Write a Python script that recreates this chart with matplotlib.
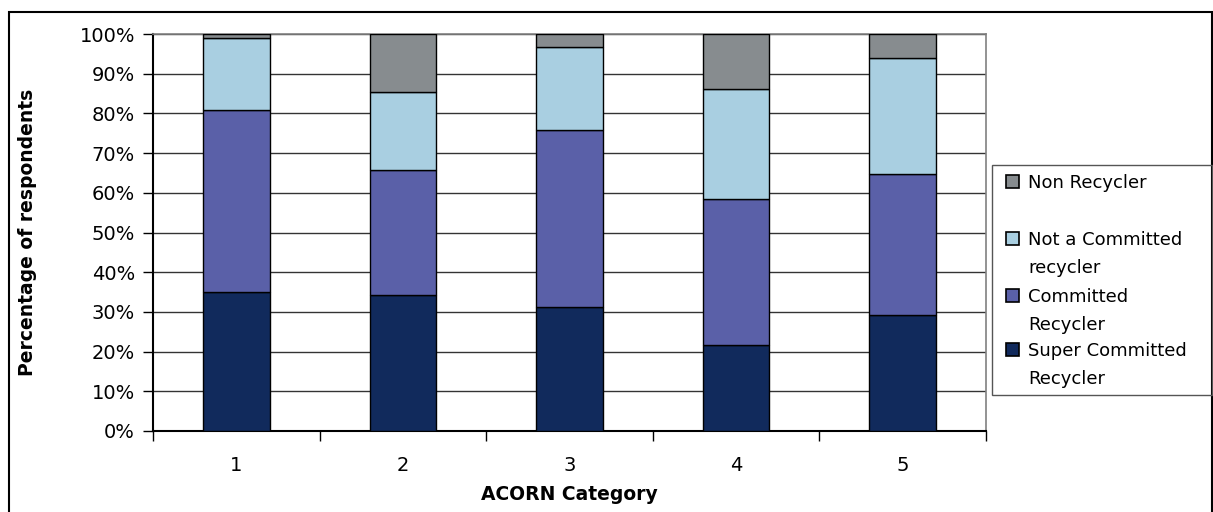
import matplotlib
matplotlib.use("Agg")
import matplotlib.pyplot as plt
from matplotlib.patches import Rectangle
import numpy as np

plt.rcParams['font.family'] = ['DejaVu Sans']

categories = ['1', '2', '3', '4', '5']
super_committed = [35.1, 34.3, 31.3, 21.7, 29.1]
committed = [45.8, 31.4, 44.6, 36.7, 35.7]
not_committed = [18.0, 19.8, 20.8, 27.7, 29.2]
non_recycler = [1.1, 14.5, 3.3, 13.9, 6.0]

series_labels = [['Non Recycler'],
                 ['Not a Committed', 'recycler'],
                 ['Committed', 'Recycler'],
                 ['Super Committed', 'Recycler']]
colors = ['#878c8f', '#a9cfe1', '#5a60a8', '#112a5c']

W, H = 1213, 512
fig = plt.figure(figsize=(W / 100, H / 100), dpi=100)
ax = fig.add_axes([153 / W, 1 - 431 / H, (986 - 153) / W, (431 - 34) / H])


def fx(px):
    return px / W


def fy(py):
    return 1 - py / H


x = np.arange(len(categories))
bottom = np.zeros(len(categories))
stack = [super_committed, committed, not_committed, non_recycler]
stack_colors = colors[::-1]
for vals, c in zip(stack, stack_colors):
    ax.bar(x, vals, width=0.4, bottom=bottom, color=c, edgecolor='black',
           linewidth=1.0, zorder=3)
    bottom += np.array(vals)

ax.set_xlim(-0.5, len(categories) - 0.5)
ax.set_ylim(0, 100)
ax.set_yticks(np.arange(0, 101, 10))
ax.set_yticklabels([f'{v}%' for v in range(0, 101, 10)], fontsize=14)
ax.set_xticks(x)
ax.set_xticklabels(categories, fontsize=14)
ax.set_xticks(np.arange(len(categories) + 1) - 0.5, minor=True)
ax.tick_params(axis='x', which='major', length=0, pad=18)
ax.tick_params(axis='x', which='minor', length=7, width=1, color='black')
ax.tick_params(axis='y', length=7, width=1, pad=6)
ax.yaxis.grid(True, color='#333333', linewidth=1.0, zorder=0)
ax.set_axisbelow(True)

ax.spines['left'].set_linewidth(1.5)
ax.spines['bottom'].set_linewidth(1.5)
ax.spines['top'].set_color('#808080')
ax.spines['right'].set_color('#808080')
ax.spines['top'].set_linewidth(1.2)
ax.spines['right'].set_linewidth(1.2)

ax.set_ylabel('Percentage of respondents', fontsize=13.5, fontweight='bold')
ax.yaxis.set_label_coords(-(153 - 27) / (986 - 153), 0.5)
ax.yaxis.label.set_va('center')
ax.set_xlabel('ACORN Category', fontsize=13.5, fontweight='bold')
ax.xaxis.set_label_coords(0.5, -(500 - 431) / (431 - 34))
ax.xaxis.label.set_va('baseline')

# outer chart border
fig.add_artist(Rectangle((fx(9), fy(530)), fx(1212 - 9), (530 - 12) / H,
                         fill=False, edgecolor='black', linewidth=1.5,
                         transform=fig.transFigure))

# legend box with entries
fig.add_artist(Rectangle((fx(992), fy(395)), fx(1212 - 992), (395 - 165) / H,
                         fill=False, edgecolor='#555555', linewidth=1.0,
                         transform=fig.transFigure))
square_bottoms = [188, 245, 302, 356]
for lines, c, sb in zip(series_labels, colors, square_bottoms):
    fig.add_artist(Rectangle((fx(1006), fy(sb)), fx(13), 13 / H,
                             facecolor=c, edgecolor='black', linewidth=1.2,
                             transform=fig.transFigure))
    for i, line in enumerate(lines):
        fig.text(fx(1028), fy(sb + i * 28), line, fontsize=13,
                 va='baseline', ha='left')

fig.savefig('out.png', dpi=100)
